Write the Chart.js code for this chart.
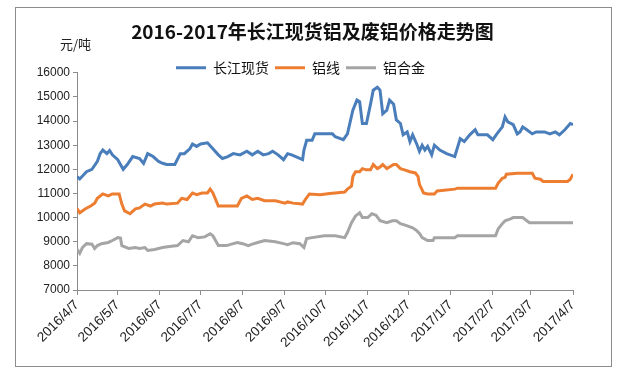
<!DOCTYPE html>
<html>
<head>
<meta charset="utf-8">
<script src="https://cdn.jsdelivr.net/npm/chart.js@4"></script>
<style>
  html, body { margin: 0; padding: 0; background: #fff; }
  #wrap { width: 617px; height: 377px; }
</style>
</head>
<body>
<div id="wrap"><canvas id="grafico" width="617" height="377"></canvas></div>
<script>
// eixo X: dias desde 2016/4/7
const tickDays = [0, 30, 61, 91, 122, 153, 183, 214, 244, 275, 306, 334, 365];
const tickLabels = ['2016/4/7', '2016/5/7', '2016/6/7', '2016/7/7', '2016/8/7', '2016/9/7',
  '2016/10/7', '2016/11/7', '2016/12/7', '2017/1/7', '2017/2/7', '2017/3/7', '2017/4/7'];
const seriesNames = ['长江现货', '铝线', '铝合金'];

// 长江现货
const spotDays = [0, 2, 7, 11, 15, 17, 19, 22, 24, 26, 30, 34, 37, 41, 46, 49, 52, 56, 60, 63, 66, 72, 76, 79,
  83, 85, 88, 91, 96, 100, 104, 107, 111, 115, 120, 125, 129, 133, 137, 141, 144, 148, 152, 155, 158, 166,
  167, 169, 173, 175, 182, 188, 190, 196, 199, 203, 206, 208, 210, 213, 216, 218, 221, 223, 225, 228, 230,
  233, 235, 238, 240, 243, 245, 247, 250, 252, 254, 256, 258, 261, 263, 267, 272, 278, 282, 285, 289, 293,
  295, 302, 306, 309, 313, 315, 317, 321, 324, 326, 328, 331, 335, 338, 344, 348, 352, 355, 359, 363, 365];
const spotPrice = [11700, 11600, 11900, 12000, 12330, 12650, 12800, 12650, 12780, 12600, 12400, 12000, 12200,
  12530, 12450, 12250, 12650, 12530, 12330, 12250, 12200, 12200, 12650, 12650, 12850, 13050, 12950, 13050,
  13100, 12850, 12600, 12450, 12530, 12650, 12600, 12750, 12600, 12750, 12600, 12650, 12750, 12600, 12400,
  12650, 12600, 12400, 12800, 13200, 13200, 13470, 13470, 13470, 13350, 13230, 13470, 14450, 14870, 14800,
  13900, 13900, 14700, 15280, 15400, 15280, 14300, 14450, 14870, 14700, 14050, 13900, 13430, 13550, 13150,
  13430, 13050, 12750, 13000, 12800, 12950, 12600, 13000, 12800, 12650, 12530, 13270, 13150, 13430, 13640,
  13430, 13430, 13230, 13470, 13760, 14170, 13970, 13850, 13470, 13550, 13760, 13640, 13470, 13550, 13550,
  13470, 13550, 13430, 13640, 13900, 13850];

// 铝线
const wireDays = [0, 2, 6, 10, 13, 15, 19, 23, 26, 31, 33, 35, 39, 43, 46, 50, 54, 57, 63, 66, 74, 77, 81, 85,
  88, 92, 96, 98, 100, 104, 110, 118, 121, 125, 129, 133, 138, 146, 153, 155, 159, 166, 168, 171, 179, 186,
  190, 197, 199, 202, 203, 205, 208, 210, 213, 216, 218, 221, 223, 225, 228, 230, 233, 235, 238, 241, 245,
  249, 251, 252, 255, 258, 263, 265, 278, 280, 308, 310, 313, 315, 316, 324, 335, 337, 341, 343, 361, 363, 365];
const wirePrice = [10380, 10200, 10360, 10480, 10600, 10800, 10980, 10900, 10980, 10980, 10560, 10280, 10160,
  10360, 10400, 10560, 10480, 10560, 10600, 10560, 10600, 10800, 10750, 11020, 10950, 11020, 11020, 11180,
  11020, 10480, 10480, 10480, 10800, 10900, 10750, 10800, 10700, 10700, 10600, 10650, 10600, 10560, 10750,
  10980, 10950, 11000, 11020, 11060, 11180, 11300, 11700, 11900, 11900, 12030, 11980, 11980, 12200, 12030,
  12100, 12200, 12030, 12100, 12200, 12200, 12030, 11980, 11900, 11850, 11700, 11380, 11020, 10980, 10980,
  11100, 11180, 11220, 11220, 11430, 11630, 11670, 11800, 11840, 11840, 11630, 11590, 11500, 11500, 11590, 11800];

// 铝合金
const alloyDays = [0, 2, 4, 7, 11, 13, 15, 18, 23, 26, 30, 32, 33, 38, 43, 46, 50, 52, 57, 63, 68, 74, 78, 82,
  85, 89, 94, 98, 100, 104, 110, 115, 118, 122, 126, 129, 133, 138, 146, 152, 155, 159, 164, 167, 169, 173,
  182, 190, 197, 199, 202, 205, 208, 210, 214, 217, 220, 223, 228, 232, 235, 238, 241, 247, 250, 252, 254,
  258, 262, 263, 278, 280, 308, 310, 313, 315, 319, 321, 328, 331, 333, 365];
const alloyPrice = [8680, 8520, 8760, 8920, 8900, 8720, 8840, 8920, 8970, 9050, 9170, 9150, 8840, 8720, 8760,
  8720, 8760, 8640, 8680, 8760, 8800, 8840, 9050, 9000, 9250, 9170, 9200, 9330, 9250, 8840, 8840, 8920, 8970,
  8920, 8840, 8900, 8970, 9050, 9000, 8920, 8880, 8960, 8920, 8760, 9130, 9170, 9250, 9250, 9170, 9380, 9790,
  10070, 10200, 10000, 10000, 10160, 10100, 9870, 9790, 9870, 9870, 9750, 9700, 9580, 9460, 9340, 9170, 9050,
  9050, 9170, 9170, 9250, 9250, 9540, 9750, 9870, 9950, 10000, 10000, 9870, 9790, 9790];

const cores = ['#4a7ebb', '#ed7d31', '#a5a5a5'];

function pontos(dias, valores) {
    return dias.map((d, i) => ({ x: d, y: valores[i] }));
}

// moldura, fundo e a unidade "元/吨"
const moldura = {
    id: 'moldura',
    beforeDraw(chart) {
        const ctx = chart.ctx;
        ctx.save();
        ctx.fillStyle = '#fff';
        ctx.fillRect(0, 0, chart.width, chart.height);
        ctx.strokeStyle = '#8c8c8c';
        ctx.lineWidth = 1;
        ctx.strokeRect(15.5, 7.5, 596, 359);
        ctx.fillStyle = '#222';
        ctx.font = '13px "Noto Sans CJK SC"';
        ctx.textAlign = 'left';
        ctx.textBaseline = 'middle';
        ctx.fillText('元/吨', 60, 44);
        ctx.restore();
    },
    afterLayout(chart) {
        // legenda desce para a altura do topo do eixo; título um pouco à direita
        chart.legend.top += 12;
        chart.legend.bottom += 12;
        chart.titleBlock.left += 12;
        chart.titleBlock.right += 12;
    }
};

function desenharGrafico() {
    const canvas = document.getElementById('grafico');
    const ctx = canvas.getContext('2d');

    new Chart(ctx, {
        type: 'line',
        data: {
            datasets: [
                { label: seriesNames[0], data: pontos(spotDays, spotPrice), borderColor: cores[0], backgroundColor: cores[0] },
                { label: seriesNames[1], data: pontos(wireDays, wirePrice), borderColor: cores[1], backgroundColor: cores[1] },
                { label: seriesNames[2], data: pontos(alloyDays, alloyPrice), borderColor: cores[2], backgroundColor: cores[2] }
            ].map(ds => Object.assign(ds, { borderWidth: 3, pointRadius: 0, tension: 0, fill: false }))
        },
        options: {
            responsive: false,
            animation: false,
            layout: { padding: { left: 28, right: 44, top: 0, bottom: 0 } },
            plugins: {
                title: {
                    display: true,
                    text: '2016-2017年长江现货铝及废铝价格走势图',
                    color: '#111',
                    font: { family: '"Noto Sans CJK SC"', size: 19, weight: 'bold' },
                    padding: { top: 20, bottom: 0 }
                },
                legend: {
                    labels: {
                        usePointStyle: true,
                        pointStyle: 'line',
                        pointStyleWidth: 30,
                        padding: 6,
                        color: '#111',
                        font: { family: '"Noto Sans CJK SC"', size: 14 }
                    }
                },
                tooltip: { enabled: false }
            },
            scales: {
                x: {
                    type: 'linear',
                    min: 0,
                    max: 365,
                    afterBuildTicks(scale) {
                        scale.ticks = tickDays.map(v => ({ value: v }));
                    },
                    afterFit(scale) { scale.height = 87; },
                    grid: { display: true, drawOnChartArea: false, drawTicks: true, tickLength: 5, color: '#8c8c8c' },
                    border: { display: true, color: '#8c8c8c' },
                    ticks: {
                        autoSkip: false,
                        minRotation: 45,
                        maxRotation: 45,
                        padding: 2,
                        color: '#222',
                        font: { family: 'Liberation Sans', size: 13.5 },
                        callback: v => tickLabels[tickDays.indexOf(v)]
                    }
                },
                y: {
                    min: 7000,
                    max: 16000,
                    afterFit(scale) { scale.width = 49; },
                    grid: { display: true, drawOnChartArea: false, drawTicks: true, tickLength: 4, color: '#8c8c8c' },
                    border: { display: true, color: '#8c8c8c' },
                    ticks: {
                        stepSize: 1000,
                        color: '#222',
                        font: { family: 'Liberation Sans', size: 12 },
                        callback: v => String(v)
                    }
                }
            }
        },
        plugins: [moldura]
    });
}

document.addEventListener('DOMContentLoaded', desenharGrafico);
</script>
</body>
</html>
